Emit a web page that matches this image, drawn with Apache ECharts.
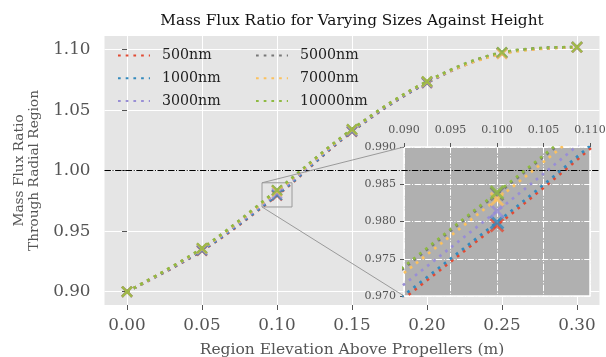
<!DOCTYPE html>
<html>
<head>
<meta charset="utf-8">
<script src="https://cdn.jsdelivr.net/npm/echarts@6/dist/echarts.min.js"></script>
<style>
  html, body { margin: 0; padding: 0; background: #fff; }
  #chart { width: 606px; height: 357px; }
</style>
</head>
<body>
<div id="chart"></div>
<script>
// region heights (m) and mass flux ratio per particle size
const heights = [0, 0.05, 0.10, 0.15, 0.20, 0.25, 0.30];
const sizeNames = ['500nm', '1000nm', '3000nm', '5000nm', '7000nm', '10000nm'];
const ratio500nm = [0.900, 0.9338, 0.9795, 1.0322, 1.0725, 1.0972, 1.1020];
const ratio1000nm = [0.900, 0.9342, 0.9799, 1.0325, 1.0727, 1.0973, 1.1020];
const ratio3000nm = [0.900, 0.9350, 0.9814, 1.0333, 1.0731, 1.0970, 1.1020];
const ratio5000nm = [0.900, 0.9358, 0.9837, 1.0340, 1.0736, 1.0975, 1.1021];
const ratio7000nm = [0.900, 0.9356, 0.9830, 1.0338, 1.0735, 1.0965, 1.1020];
const ratio10000nm = [0.900, 0.9360, 0.9839, 1.0342, 1.0738, 1.0978, 1.1022];
const xTicks = [0, 0.05, 0.10, 0.15, 0.20, 0.25, 0.30];
const yTicks = [0.90, 0.95, 1.00, 1.05, 1.10];
const insetX = [0.09, 0.11];
const insetY = [0.97, 0.99];
const refLevel = 1.0;

const ratios = [ratio500nm, ratio1000nm, ratio3000nm, ratio5000nm, ratio7000nm, ratio10000nm];
const colors = ['#E24A33', '#348ABD', '#988ED5', '#777777', '#FBC15E', '#8EBA42'];
const FONT = 'DejaVu Serif';
const X_MARK = 'path://M4.2,0H5.8V4.2H10V5.8H5.8V10H4.2V5.8H0V4.2H4.2Z';
const DASH_DOT = [6.4, 1.6, 1, 1.6];

const chart = echarts.init(document.getElementById('chart'), null, { renderer: 'canvas' });

const series = [];
ratios.forEach((vals, i) => {
  const name = sizeNames[i];
  const data = heights.map((h, j) => [h, vals[j]]);
  const line = {
    name, type: 'line', xAxisIndex: 0, yAxisIndex: 0, data,
    smooth: 0.35, symbol: 'none',
    lineStyle: { color: colors[i], width: 2.7, type: [2.7, 5] }, z: 2,
  };
  if (i === 0) {
    line.markLine = {
      silent: true, symbol: 'none', label: { show: false },
      lineStyle: { color: '#000', width: 1, type: DASH_DOT },
      data: [{ yAxis: refLevel }],
    };
    line.markArea = {
      silent: true,
      itemStyle: { color: 'transparent', borderColor: '#9a9a9a', borderWidth: 1 },
      data: [[{ coord: [insetX[0], insetY[0]] }, { coord: [insetX[1], insetY[1]] }]],
    };
  }
  series.push(line);
  series.push({
    name, type: 'scatter', xAxisIndex: 0, yAxisIndex: 0, data,
    symbol: X_MARK, symbolSize: 14, symbolRotate: 45,
    itemStyle: { color: colors[i] }, z: 2,
  });
});
// same curves again, zoomed into the inset
ratios.forEach((vals, i) => {
  const name = sizeNames[i];
  const data = heights.map((h, j) => [h, vals[j]]);
  series.push({
    name, type: 'line', xAxisIndex: 1, yAxisIndex: 1, data,
    smooth: 0.35, symbol: 'none', clip: true,
    lineStyle: { color: colors[i], width: 2.7, type: [2.7, 5] }, z: 5,
  });
  series.push({
    name, type: 'scatter', xAxisIndex: 1, yAxisIndex: 1, data, clip: true,
    symbol: X_MARK, symbolSize: 18, symbolRotate: 45,
    itemStyle: { color: colors[i] }, z: 5,
  });
});

const legendBase = {
  orient: 'vertical',
  padding: 0,
  itemWidth: 32,
  itemHeight: 14,
  itemGap: 8.8,
  itemStyle: { opacity: 0 },
  textStyle: { fontFamily: FONT, fontSize: 14.2, lineHeight: 14, color: '#222', padding: [0, 0, 0, 7] },
  selectedMode: false,
};

chart.setOption({
  animation: false,
  backgroundColor: '#fff',
  title: {
    text: 'Mass Flux Ratio for Varying Sizes Against Height',
    left: 347, top: 9, textAlign: 'center',
    textStyle: { fontFamily: FONT, fontSize: 15.3, fontWeight: 'normal', color: '#111' },
  },
  legend: [
    { ...legendBase, data: sizeNames.slice(0, 3), left: 117, top: 48.5 },
    { ...legendBase, data: sizeNames.slice(3), left: 255, top: 48.5 },
  ],
  grid: [
    { left: 104.5, top: 36, width: 495, height: 269, outerBoundsMode: 'none', containLabel: false,
      show: true, backgroundColor: '#E5E5E5', borderWidth: 0, z: 0 },
    { left: 404, top: 147, width: 186, height: 149, outerBoundsMode: 'none', containLabel: false,
      show: true, backgroundColor: '#b0b0b0', borderColor: '#fff', borderWidth: 1.5, z: 3 },
  ],
  xAxis: [
    {
      type: 'value', gridIndex: 0, min: -0.015, max: 0.315, z: 0,
      name: 'Region Elevation Above Propellers (m)', nameLocation: 'middle', nameGap: 37,
      nameTextStyle: { fontFamily: FONT, fontSize: 15.5, color: '#555' },
      axisLine: { show: false },
      axisTick: { show: true, length: 5, customValues: xTicks, lineStyle: { color: '#555' } },
      axisLabel: { customValues: xTicks, margin: 12, fontFamily: FONT, fontSize: 16.8, color: '#555', formatter: (v) => v.toFixed(2) },
      splitLine: { show: true, lineStyle: { color: '#fff', width: 1 } },
    },
    {
      type: 'value', gridIndex: 1, min: insetX[0], max: insetX[1], interval: 0.005, position: 'top', z: 4,
      axisLine: { show: false },
      axisTick: { show: true, length: 4, lineStyle: { color: '#555' } },
      axisLabel: { margin: 11, fontFamily: FONT, fontSize: 11, color: '#555', formatter: (v) => v.toFixed(3) },
      splitLine: { show: true, lineStyle: { color: '#fff', width: 1, type: DASH_DOT } },
    },
  ],
  yAxis: [
    {
      type: 'value', gridIndex: 0, min: 0.889, max: 1.1113, z: 0,
      name: 'Mass Flux Ratio\nThrough Radial Region', nameLocation: 'middle', nameGap: 63, nameRotate: 90,
      nameTextStyle: { fontFamily: FONT, fontSize: 13.7, color: '#555', lineHeight: 15 },
      axisLine: { show: false },
      axisTick: { show: true, length: 5, customValues: yTicks, lineStyle: { color: '#555' } },
      axisLabel: { customValues: yTicks, margin: 14, fontFamily: FONT, fontSize: 16.8, color: '#555', formatter: (v) => v.toFixed(2) },
      splitLine: { show: true, lineStyle: { color: '#fff', width: 1 } },
    },
    {
      type: 'value', gridIndex: 1, min: insetY[0], max: insetY[1], interval: 0.005, z: 4,
      axisLine: { show: false },
      axisTick: { show: true, length: 4, lineStyle: { color: '#555' } },
      axisLabel: { margin: 8, fontFamily: FONT, fontSize: 11, color: '#555', formatter: (v) => v.toFixed(3) },
      splitLine: { show: true, lineStyle: { color: '#fff', width: 1, type: DASH_DOT } },
    },
  ],
  series,
});

// connector lines from the zoom box to the inset's left corners
const mainPt = (v) => chart.convertToPixel({ xAxisIndex: 0, yAxisIndex: 0 }, v);
const insetPt = (v) => chart.convertToPixel({ xAxisIndex: 1, yAxisIndex: 1 }, v);
const connectors = [[insetX[0], insetY[1]], [insetX[0], insetY[0]]].map((c) => {
  const a = mainPt(c);
  const b = insetPt(c);
  return {
    type: 'line', silent: true, z: 6,
    shape: { x1: a[0], y1: a[1], x2: b[0], y2: b[1] },
    style: { stroke: '#9a9a9a', lineWidth: 1 },
  };
});
chart.setOption({ graphic: connectors });

window.addEventListener('resize', () => chart.resize());
</script>
</body>
</html>
